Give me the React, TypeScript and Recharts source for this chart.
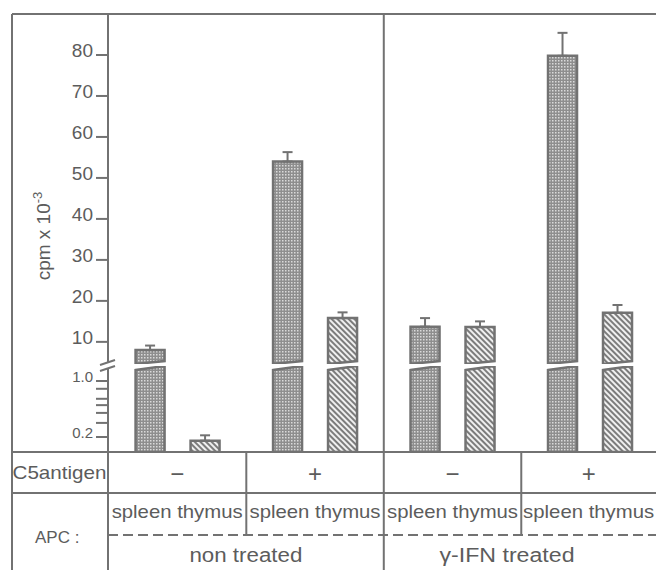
import React from 'react';
import { BarChart, Bar, XAxis, YAxis, ErrorBar } from 'recharts';

// categories
const treatments = ['non treated', 'γ-IFN treated'];
const antigens = ['−', '+'];
const apcs = ['spleen', 'thymus'];

// cpm x 10^-3, ordered treatment > C5 antigen > APC
const cpmValues = [8.0, 0.18, 54.0, 15.8, 13.7, 13.6, 79.8, 17.1];
const cpmErrors = [1.1, 0.03, 2.3, 1.4, 2.1, 1.4, 5.6, 1.9];

// axis ticks
const upperTicks = [10, 20, 30, 40, 50, 60, 70, 80];
const lowerTicks = [0.2, 0.3, 0.4, 0.5, 0.6, 0.8, 1.0];
const lowerLabels = [0.2, 1.0];

const W = 656;
const H = 570;
const AXIS_X = 108;
const FRAME_L = 12;
const FRAME_T = 14;
const BASE_Y = 452;
const ROW2_Y = 493;
const DASH_Y = 535;

const upperDomain: [number, number] = [4.6, 90];
const lowerDomain: [number, number] = [0.13, 1.54];
const slotDomain: [number, number] = [-1.53, 18.4];

const LINE = '#727272';
const TEXT = '#5c5c5c';
const FONT = '"Liberation Sans", Arial, Helvetica, sans-serif';

const slotOf = (i: number) => {
  const t = Math.floor(i / 4);
  const a = Math.floor(i / 2) % 2;
  const p = i % 2;
  return (t * 2 + a) * 5 + p * 2;
};

const rows = cpmValues.map((v, i) => {
  const above = v > lowerDomain[1];
  return {
    slot: slotOf(i),
    apc: apcs[i % 2],
    value: v,
    upper: above ? v : null,
    upperErr: above ? [0, cpmErrors[i]] : null,
    lower: Math.min(v, lowerDomain[1]),
    lowerErr: above ? null : [0, cpmErrors[i]],
  };
});

// same linear mapping as the hidden numeric x axis (plot spans AXIS_X..W)
const xPx = (slot: number) =>
  AXIS_X + ((slot - slotDomain[0]) / (slotDomain[1] - slotDomain[0])) * (W - AXIS_X);

const fillFor = (apc: string) => (apc === 'spleen' ? 'url(#spleenPat)' : 'url(#thymusPat)');

const UpperShape = (props: any) => {
  const { x, y, width, height, payload } = props;
  if (!payload || payload.upper == null || !(height > 0)) return null;
  const b = y + height;
  const d = `M${x},${y} H${x + width} V${b - 3} L${x},${b} Z`;
  return <path d={d} fill={fillFor(payload.apc)} stroke={LINE} strokeWidth={2.5} />;
};

const LowerShape = (props: any) => {
  const { x, y, width, height, payload } = props;
  if (!payload || !(height > 0)) return null;
  const b = y + height;
  const broken = payload.value > lowerDomain[1];
  const d = broken
    ? `M${x},${y + 4} L${x + width},${y} V${b} H${x} Z`
    : `M${x},${y} H${x + width} V${b} H${x} Z`;
  return <path d={d} fill={fillFor(payload.apc)} stroke={LINE} strokeWidth={2.5} />;
};

const UpperTick = (props: any) => {
  const { x, y, payload } = props;
  return (
    <text x={x} y={y + 2} textAnchor="end" fontSize={19} fill={TEXT} fontFamily={FONT}>
      {payload.value}
    </text>
  );
};

const LowerTick = (props: any) => {
  const { x, y, payload } = props;
  if (!lowerLabels.some((l) => Math.abs(l - payload.value) < 1e-9)) return null;
  return (
    <text x={x} y={y + 1} textAnchor="end" fontSize={15} fill={TEXT} fontFamily={FONT}>
      {payload.value.toFixed(1)}
    </text>
  );
};

const App: React.FC = () => {
  const cellEdges = [slotDomain[0], 3.5, 8.5, 13.5, slotDomain[1]].map(xPx);
  const treatmentX = [(xPx(slotDomain[0]) + xPx(8.5)) / 2, 507];

  return (
    <div style={{ position: 'absolute', left: 0, top: 0, width: W, height: H, background: '#fff', overflow: 'hidden' }}>
      <svg width={0} height={0} style={{ position: 'absolute' }}>
        <defs>
          <pattern id="spleenPat" width="3" height="3" patternUnits="userSpaceOnUse">
            <rect width="3" height="3" fill="#8e8e8e" />
            <rect width="1.5" height="1.5" fill="#dadada" />
          </pattern>
          <pattern id="thymusPat" width="4" height="4" patternUnits="userSpaceOnUse" patternTransform="rotate(-45)">
            <rect width="4" height="4" fill="#f0f0f0" />
            <rect width="2" height="4" fill="#7c7c7c" />
          </pattern>
        </defs>
      </svg>

      <div style={{ position: 'absolute', left: 0, top: 0 }}>
        <BarChart width={W} height={364} data={rows} margin={{ top: FRAME_T, right: 0, bottom: 0, left: 0 }}>
          <XAxis type="number" dataKey="slot" domain={slotDomain} hide allowDataOverflow />
          <YAxis
            type="number"
            domain={upperDomain}
            ticks={upperTicks}
            interval={0}
            width={AXIS_X}
            allowDataOverflow
            axisLine={false}
            tickSize={12}
            tickMargin={3}
            tickLine={{ stroke: LINE, strokeWidth: 2 }}
            tick={<UpperTick />}
          />
          <Bar dataKey="upper" barSize={29} isAnimationActive={false} shape={UpperShape}>
            <ErrorBar dataKey="upperErr" direction="y" width={5} stroke={LINE} strokeWidth={2} isAnimationActive={false} />
          </Bar>
        </BarChart>
      </div>

      <div style={{ position: 'absolute', left: 0, top: 356 }}>
        <BarChart width={W} height={BASE_Y - 356} data={rows} margin={{ top: 10, right: 0, bottom: 0, left: 0 }}>
          <XAxis type="number" dataKey="slot" domain={slotDomain} hide allowDataOverflow />
          <YAxis
            type="number"
            scale="log"
            domain={lowerDomain}
            ticks={lowerTicks}
            interval={0}
            width={AXIS_X}
            allowDataOverflow
            axisLine={false}
            tickSize={12}
            tickMargin={3}
            tickLine={{ stroke: LINE, strokeWidth: 2 }}
            tick={<LowerTick />}
          />
          <Bar dataKey="lower" barSize={29} isAnimationActive={false} shape={LowerShape}>
            <ErrorBar dataKey="lowerErr" direction="y" width={5} stroke={LINE} strokeWidth={2} isAnimationActive={false} />
          </Bar>
        </BarChart>
      </div>

      <svg width={W} height={H} style={{ position: 'absolute', left: 0, top: 0, pointerEvents: 'none' }} fontFamily={FONT}>
        {/* frame and table grid */}
        <g stroke={LINE} strokeWidth={2} fill="none">
          <line x1={FRAME_L} y1={FRAME_T} x2={W} y2={FRAME_T} />
          <line x1={FRAME_L} y1={FRAME_T} x2={FRAME_L} y2={H} />
          <line x1={AXIS_X} y1={FRAME_T} x2={AXIS_X} y2={363} />
          <line x1={AXIS_X} y1={369} x2={AXIS_X} y2={H} />
          <line x1={100} y1={365} x2={115} y2={360} />
          <line x1={100} y1={371} x2={115} y2={366} />
          <line x1={FRAME_L} y1={BASE_Y} x2={W} y2={BASE_Y} />
          <line x1={FRAME_L} y1={ROW2_Y} x2={W} y2={ROW2_Y} />
          <line x1={AXIS_X} y1={DASH_Y} x2={W} y2={DASH_Y} strokeDasharray="10 5" />
          <line x1={cellEdges[2]} y1={FRAME_T} x2={cellEdges[2]} y2={H} />
          <line x1={cellEdges[1]} y1={BASE_Y} x2={cellEdges[1]} y2={DASH_Y} />
          <line x1={cellEdges[3]} y1={BASE_Y} x2={cellEdges[3]} y2={DASH_Y} />
        </g>

        {/* y axis title */}
        <text transform="translate(50,236) rotate(-90)" textAnchor="middle" fontSize={19} fill={TEXT}>
          cpm x 10
          <tspan dy={-8} fontSize={13}>-3</tspan>
        </text>

        {/* C5 antigen row */}
        <text x={59.5} y={479} textAnchor="middle" fontSize={19} fill={TEXT} textLength={94} lengthAdjust="spacingAndGlyphs">
          C5antigen
        </text>
        {[0, 1, 2, 3].map((k) => (
          <text key={k} x={(cellEdges[k] + cellEdges[k + 1]) / 2} y={482} textAnchor="middle" fontSize={24} fill={TEXT}>
            {antigens[k % 2]}
          </text>
        ))}

        {/* APC row */}
        <text x={35} y={543} fontSize={17} fill={TEXT}>APC :</text>
        {[0, 1, 2, 3].map((k) => (
          <text key={k} x={(cellEdges[k] + cellEdges[k + 1]) / 2} y={518} textAnchor="middle" fontSize={19} fill={TEXT} textLength={131} lengthAdjust="spacingAndGlyphs">
            {apcs.join(' ')}
          </text>
        ))}
        {treatments.map((t, k) => (
          <text key={t} x={treatmentX[k]} y={562} textAnchor="middle" fontSize={20} fill={TEXT} textLength={k === 0 ? 113 : 135} lengthAdjust="spacingAndGlyphs">
            {k === 0 ? 'non  treated' : t}
          </text>
        ))}
      </svg>
    </div>
  );
};

export default App;
